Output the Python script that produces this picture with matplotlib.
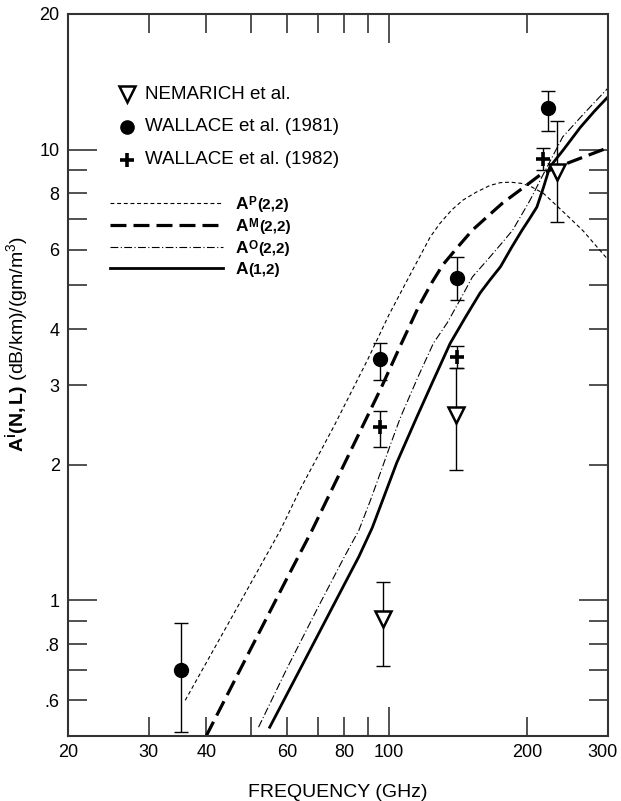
import numpy as np
import matplotlib.pyplot as plt
from matplotlib.transforms import ScaledTranslation

plt.rcParams['font.family'] = ['Liberation Sans', 'DejaVu Sans']
plt.rcParams['mathtext.fontset'] = 'custom'
plt.rcParams['mathtext.rm'] = 'Liberation Sans'
plt.rcParams['mathtext.bf'] = 'Liberation Sans:bold'
plt.rcParams['mathtext.it'] = 'Liberation Sans:italic'

# model curves (frequency in GHz, attenuation)
ap_f = [36, 45, 58, 64, 76, 90, 100, 112, 123, 129, 137, 145, 155, 166, 175, 184, 194, 203, 217, 239, 265, 300]
ap_y = [0.60, 0.90, 1.43, 1.76, 2.44, 3.43, 4.3, 5.35, 6.4, 6.85, 7.35, 7.73, 8.05, 8.33, 8.45, 8.47, 8.42, 8.3, 8.0, 7.3, 6.6, 5.7]

am_f = [40, 50, 60, 68, 80, 96, 106, 116, 124, 131, 141, 152, 165, 177, 196, 216, 250, 300]
am_y = [0.50, 0.78, 1.12, 1.43, 2.01, 2.95, 3.68, 4.48, 5.07, 5.55, 6.07, 6.63, 7.15, 7.62, 8.23, 8.87, 9.41, 10.1]

ao_f = [52, 60, 70, 80, 86, 91, 96, 101, 106, 116, 125, 134, 143, 152, 165, 177, 186, 195, 203, 215, 239, 265, 300]
ao_y = [0.523, 0.707, 0.963, 1.25, 1.43, 1.66, 1.93, 2.23, 2.55, 3.15, 3.72, 4.13, 4.65, 5.22, 5.74, 6.24, 6.63, 7.2, 7.73, 8.67, 10.67, 11.98, 13.7]

a12_f = [55, 65, 80, 86, 92, 98, 104, 115, 125, 136, 147, 158, 166, 175, 185, 195, 203, 210, 217, 224, 240, 261, 280, 300]
a12_y = [0.523, 0.724, 1.086, 1.25, 1.45, 1.72, 2.02, 2.55, 3.08, 3.72, 4.26, 4.81, 5.14, 5.5, 6.07, 6.63, 7.06, 7.46, 8.24, 9.15, 10.0, 11.2, 12.16, 13.1]

# measurements with error bar bounds
nem_f = [97, 140, 232]
nem_y = [0.91, 2.58, 8.93]
nem_lo = [0.715, 1.95, 6.9]
nem_hi = [1.10, 3.28, 11.6]

w81_f = [35.2, 95.6, 140.6, 222]
w81_y = [0.70, 3.43, 5.19, 12.4]
w81_lo = [0.51, 3.08, 4.64, 11.0]
w81_hi = [0.89, 3.72, 5.79, 13.5]

w82_f = [95.6, 140.6, 216.6]
w82_y = [2.43, 3.47, 9.53]
w82_lo = [2.19, 3.28, 9.0]
w82_hi = [2.63, 3.67, 10.1]

x_minor = [20, 30, 40, 50, 60, 70, 80, 90, 200, 300]
x_minor_labels = ['20', '30', '40', '', '60', '', '80', '', '200', '300']
y_minor = [0.6, 0.7, 0.8, 0.9, 2, 3, 4, 5, 6, 7, 8, 9, 20]
y_minor_labels = ['.6', '', '.8', '', '2', '3', '4', '', '6', '', '8', '', '20']

styles = [
    dict(color='black', lw=0.8, dashes=(3.5, 2.5)),
    dict(color='black', lw=2.3, dashes=(5, 2.2)),
    dict(color='black', lw=0.8, dashes=(7, 2.2, 1, 2.2)),
    dict(color='black', lw=2.0, linestyle='-'),
]

fig = plt.figure(figsize=(6.21, 8.01), dpi=100)
ax = fig.add_axes([68 / 621, 1 - 736 / 801, 540 / 621, 722 / 801])

ax.plot(ap_f, ap_y, **styles[0])
ax.plot(am_f, am_y, **styles[1])
ax.plot(ao_f, ao_y, **styles[2])
ax.plot(a12_f, a12_y, **styles[3])


def bars(f, y, lo, hi):
    y = np.array(y)
    err = [y - np.array(lo), np.array(hi) - y]
    ax.errorbar(f, y, yerr=err, fmt='none', ecolor='black', elinewidth=1.0,
                capsize=5, capthick=1.0, zorder=3)


bars(nem_f, nem_y, nem_lo, nem_hi)
bars(w81_f, w81_y, w81_lo, w81_hi)
bars(w82_f, w82_y, w82_lo, w82_hi)

ax.plot(nem_f, nem_y, 'v', ms=12, mfc='white', mec='black', mew=1.8, zorder=5)
ax.plot(w81_f, w81_y, 'o', ms=10, color='black', zorder=5)
ax.plot(w82_f, w82_y, '+', ms=10, color='black', mew=2.6, zorder=5)

ax.set_xscale('log')
ax.set_yscale('log')
ax.set_xlim(20, 300)
ax.set_ylim(0.5, 20)

ax.set_xticks([100], ['100'])
ax.set_xticks(x_minor, x_minor_labels, minor=True)
ax.set_yticks([1, 10], ['1', '10'])
ax.set_yticks(y_minor, y_minor_labels, minor=True)

ax.tick_params(which='both', direction='in', top=True, right=True,
               labelsize=13, color='#333333', width=1.2, pad=6)
ax.tick_params(which='major', length=21)
ax.tick_params(which='minor', length=14)
for s in ax.spines.values():
    s.set_color('#333333')
    s.set_linewidth(1.5)

# the "300" label sits a little inside the right edge
lab300 = ax.xaxis.get_minorticklabels()[-1]
lab300.set_transform(lab300.get_transform() + ScaledTranslation(-4 / 72, 0, fig.dpi_scale_trans))

ax.set_xlabel('FREQUENCY (GHz)', fontsize=14, labelpad=16)
fig.text(17 / 621, 1 - 452 / 801, r'$\mathbf{A^{i}(N,L)}$ (dB/km)/(gm/m$^3$)',
         fontsize=14, rotation=90, ha='center', va='bottom')

# legend, drawn by hand in axes fractions
tr = ax.transAxes
mk_rows = [0.889, 0.8435, 0.798]
ax.plot([0.109], [mk_rows[0]], 'v', ms=11, mfc='white', mec='black', mew=1.8, transform=tr)
ax.plot([0.109], [mk_rows[1]], 'o', ms=9.5, color='black', transform=tr)
ax.plot([0.109], [mk_rows[2]], '+', ms=9.5, color='black', mew=2.6, transform=tr)
for yy, txt in zip(mk_rows, ['NEMARICH et al.', 'WALLACE et al. (1981)', 'WALLACE et al. (1982)']):
    ax.text(0.143, yy, txt, fontsize=13.5, va='center', ha='left', transform=tr)

ln_rows = [0.7382, 0.7078, 0.6773, 0.6482]
sups = ['P', 'M', 'O', '']
sup_w = [5.9, 7.3, 6.8, 0.0]
subs = ['(2,2)', '(2,2)', '(2,2)', '(1,2)']
for yy, st, sp, sw, sb in zip(ln_rows, styles, sups, sup_w, subs):
    ax.plot([0.078, 0.287], [yy, yy], transform=tr, **st)
    kw = dict(xy=(0.311, yy), xycoords='axes fraction', textcoords='offset points',
              fontweight='bold', va='baseline', ha='left')
    ax.annotate('A', xytext=(0, -4.4), fontsize=12.5, **kw)
    if sp:
        ax.annotate(sp, xytext=(9.2, -1.6), fontsize=8.5, **kw)
    ax.annotate(sb, xytext=(9.2 + sw, -4.4), fontsize=11, **kw)

fig.savefig('out.png', dpi=100)
